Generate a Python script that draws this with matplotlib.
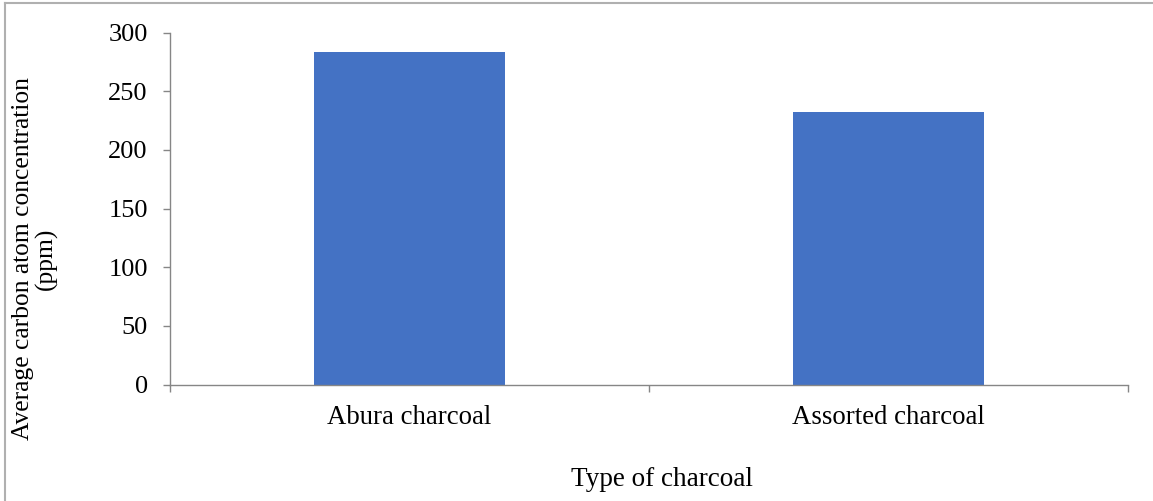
import matplotlib
matplotlib.use("Agg")
import matplotlib.pyplot as plt
from matplotlib.lines import Line2D

plt.rcParams.update({"font.family": "Liberation Serif", "font.size": 19})

categories = ["Abura charcoal", "Assorted charcoal"]
carbon_ppm = [283.3, 232.4]
y_ticks = [0, 50, 100, 150, 200, 250, 300]

BAR = "#4472C4"
AXIS = "#868686"

W, H = 1153, 501
fig = plt.figure(figsize=(W / 100, H / 100), dpi=100)
ax = fig.add_axes([170 / W, 1 - 384.5 / H, (1128 - 170) / W, (384.5 - 32.7) / H])

ax.bar(range(len(categories)), carbon_ppm, width=0.4, color=BAR, zorder=2)
ax.set_xlim(-0.5, len(categories) - 0.5)
ax.set_ylim(0, 300)
ax.set_yticks(y_ticks)

# category ticks sit on the boundaries, labels in the middle
ax.set_xticks([i - 0.5 for i in range(len(categories) + 1)])
ax.set_xticklabels([])
ax.set_xticks(range(len(categories)), minor=True)
ax.set_xticklabels(categories, minor=True)
ax.tick_params(axis="x", which="minor", length=0, pad=15, labelsize=19.3)
ax.tick_params(axis="x", which="major", direction="out", length=5, color=AXIS, width=1)
ax.tick_params(axis="y", direction="out", length=5, color=AXIS, width=1, pad=11, labelsize=19)

for s in ("top", "right"):
    ax.spines[s].set_visible(False)
for s in ("left", "bottom"):
    ax.spines[s].set_color(AXIS)
    ax.spines[s].set_linewidth(1)

fig.text(35 / W, 1 - 259 / H, "Average carbon atom concentration\n(ppm)", rotation=90,
         ha="center", va="center", multialignment="center", fontsize=18.4, linespacing=1.05)
fig.text(662 / W, 1 - 480 / H, "Type of charcoal", ha="center", va="center", fontsize=19.5)

# chart frame (only top and left edges show)
fig.add_artist(Line2D([5 / W, 5 / W], [0, 1 - 3 / H], transform=fig.transFigure, color="#b0b0b0", lw=1.5))
fig.add_artist(Line2D([5 / W, 1], [1 - 3 / H, 1 - 3 / H], transform=fig.transFigure, color="#b0b0b0", lw=1.5))

fig.savefig("out.png", dpi=100)
